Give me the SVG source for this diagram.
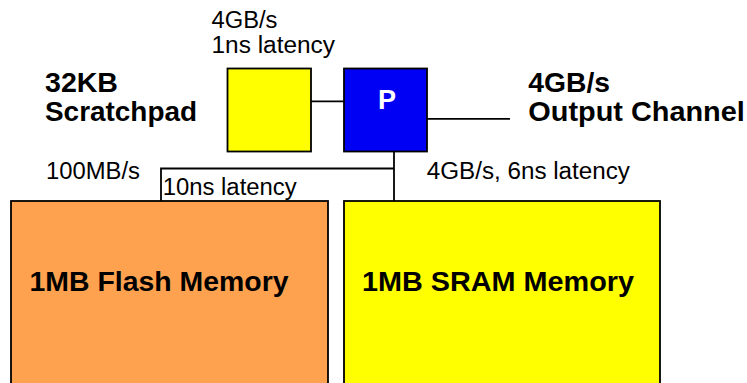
<svg xmlns="http://www.w3.org/2000/svg" width="747" height="383" viewBox="0 0 747 383">
<style>
.box{stroke:#000;stroke-width:1.8}
.ln{stroke:#000;stroke-width:1.8;fill:none}
.t{font-family:"Liberation Sans",Arial,sans-serif;font-size:23px;fill:#000}
.b{font-family:"Liberation Sans",Arial,sans-serif;font-size:28px;font-weight:bold;fill:#000}
</style>
<rect width="747" height="383" fill="#fff"/>
<g id="connectors">
<line class="ln" x1="311" y1="101.3" x2="344" y2="101.3"/>
<line class="ln" x1="427" y1="118.8" x2="510" y2="118.8"/>
<line class="ln" x1="394" y1="151.7" x2="394" y2="201"/>
<polyline class="ln" points="394,168.5 161,168.5 161,201"/>
</g>
<g id="flash">
<rect class="box" x="11" y="201" width="317" height="200" fill="#FFA24F"/>
<text class="b" x="29.5" y="291" textLength="259" lengthAdjust="spacingAndGlyphs">1MB Flash Memory</text>
</g>
<g id="sram">
<rect class="box" x="344" y="201" width="316" height="200" fill="#FFFF00"/>
<text class="b" x="362" y="291" textLength="272" lengthAdjust="spacingAndGlyphs">1MB SRAM Memory</text>
</g>
<g id="scratchpad">
<rect class="box" x="227.5" y="68.5" width="83.5" height="83" fill="#FFFF00"/>
</g>
<g id="processor">
<rect class="box" x="344" y="68.5" width="83" height="83" fill="#0000F5"/>
<text x="387" y="109" text-anchor="middle" style="font-family:'Liberation Sans',Arial,sans-serif;font-size:27px;font-weight:bold;fill:#fff">P</text>
</g>
<g id="labels">
<text class="t" x="211.5" y="27.5" textLength="66" lengthAdjust="spacingAndGlyphs">4GB/s</text>
<text class="t" x="211.5" y="53" textLength="123.5" lengthAdjust="spacingAndGlyphs">1ns latency</text>
<text class="b" x="45" y="91.7" textLength="73" lengthAdjust="spacingAndGlyphs">32KB</text>
<text class="b" x="45" y="120.7" textLength="152" lengthAdjust="spacingAndGlyphs">Scratchpad</text>
<text class="b" x="528.3" y="91.7" textLength="81.7" lengthAdjust="spacingAndGlyphs">4GB/s</text>
<text class="b" x="528.3" y="120.7" textLength="216.5" lengthAdjust="spacingAndGlyphs">Output Channel</text>
<text class="t" x="46" y="178.5" textLength="94" lengthAdjust="spacingAndGlyphs">100MB/s</text>
<text class="t" x="162.7" y="195" textLength="134" lengthAdjust="spacingAndGlyphs">10ns latency</text>
<text class="t" x="426.7" y="179.3" textLength="203.3" lengthAdjust="spacingAndGlyphs">4GB/s, 6ns latency</text>
</g>
</svg>
